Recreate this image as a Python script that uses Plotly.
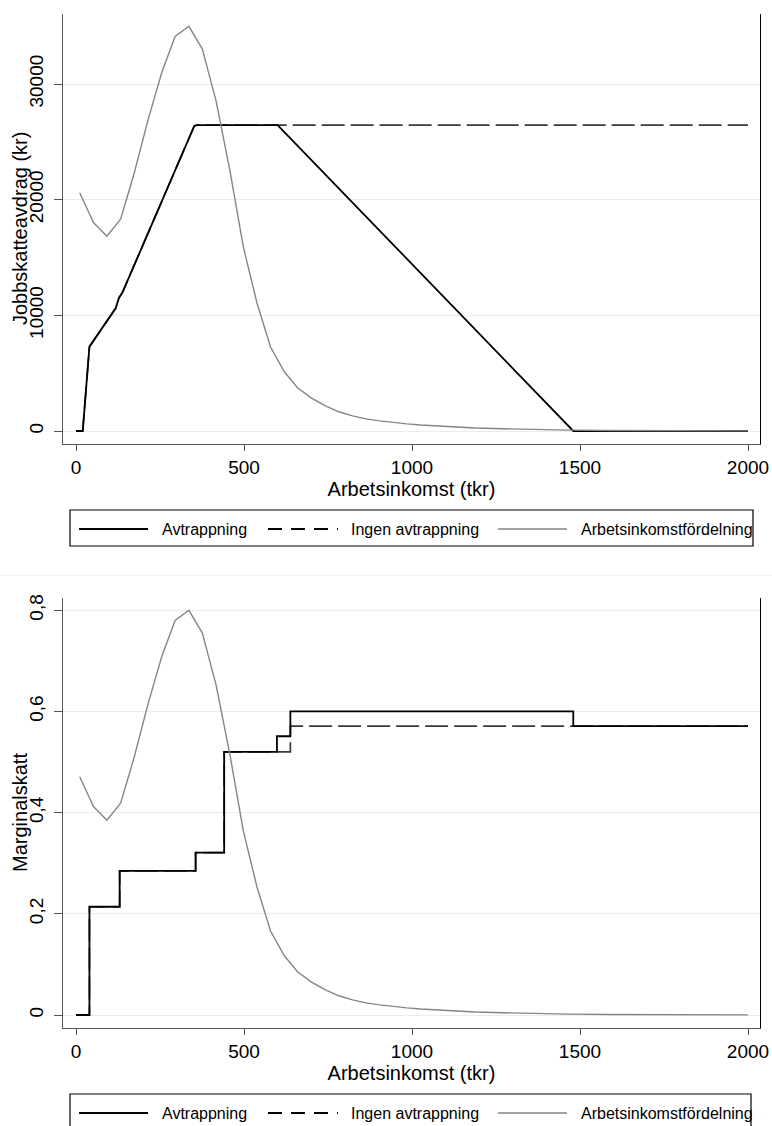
import plotly.graph_objects as go

# ---------------- data ----------------
# Top panel: Jobbskatteavdrag (kr) vs Arbetsinkomst (tkr)
jsa_x_avtr = [0, 20, 40, 118, 128, 138, 352, 360, 600, 1480, 2000]
jsa_y_avtr = [0, 0, 7290, 10610, 11520, 11960, 26370, 26450, 26450, 0, 0]
jsa_x_ingen = [0, 20, 40, 118, 128, 138, 352, 360, 600, 2000]
jsa_y_ingen = [0, 0, 7290, 10610, 11520, 11960, 26370, 26450, 26450, 26450]

# Bottom panel: Marginalskatt (step functions)
ms_x_avtr = [0, 40, 130, 356, 441, 598, 638, 1480, 2000]
ms_y_avtr = [0, 0.214, 0.285, 0.321, 0.520, 0.551, 0.600, 0.571, 0.571]
ms_x_ingen = [0, 40, 130, 356, 441, 638, 2000]
ms_y_ingen = [0, 0.214, 0.285, 0.321, 0.520, 0.571, 0.571]

# Income distribution (right, unlabeled axis)
dist_x = [11, 52, 92, 133, 173, 214, 255, 295, 336, 376, 417, 458, 498, 539,
          579, 620, 660, 701, 741, 782, 823, 863, 904, 944, 985, 1026, 1107,
          1188, 1269, 1350, 1472, 1594, 1756, 1878, 2000]
dist_y = [0.471, 0.412, 0.385, 0.419, 0.509, 0.614, 0.708, 0.780, 0.800, 0.755,
          0.652, 0.515, 0.364, 0.252, 0.166, 0.117, 0.085, 0.065, 0.050, 0.038,
          0.030, 0.024, 0.020, 0.0165, 0.0140, 0.0118, 0.0085, 0.0060, 0.0043,
          0.0030, 0.0018, 0.0011, 0.0006, 0.0003, 0.0002]

x_ticks = [0, 500, 1000, 1500, 2000]
top_y_ticks = [0, 10000, 20000, 30000]
top_y_ticktext = ["0", "10000", "20000", "30000"]
bot_y_ticks = [0, 0.2, 0.4, 0.6, 0.8]
bot_y_ticktext = ["0", "0,2", "0,4", "0,6", "0,8"]

names = ["Avtrappning", "Ingen avtrappning", "Arbetsinkomstfördelning"]
x_title = "Arbetsinkomst (tkr)"
top_y_title = "Jobbskatteavdrag (kr)"
bot_y_title = "Marginalskatt"

# ---------------- styling ----------------
W, H = 772, 1126
FONT = "Arial, Liberation Sans, sans-serif"
AXC = "#555555"
GRID = "#e6eef0"
BLACK = "#000000"
DASHC = "#3a3a3a"
GRAY = "#858585"


def py(p):
    return (H - p) / H


def px(p):
    return p / W


xdom = [px(63), px(760)]
top_dom = [py(444), py(14)]
bot_dom = [py(1028), py(598)]

fig = go.Figure()

# top panel
fig.add_trace(go.Scatter(x=jsa_x_ingen, y=jsa_y_ingen, mode="lines", name=names[1],
                         line=dict(color=DASHC, width=1.7, dash="23px,6px"),
                         xaxis="x", yaxis="y", showlegend=False))
fig.add_trace(go.Scatter(x=jsa_x_avtr, y=jsa_y_avtr, mode="lines", name=names[0],
                         line=dict(color=BLACK, width=1.8),
                         xaxis="x", yaxis="y", showlegend=False))
fig.add_trace(go.Scatter(x=dist_x, y=dist_y, mode="lines", name=names[2],
                         line=dict(color=GRAY, width=1.4),
                         xaxis="x", yaxis="y2", showlegend=False))

# bottom panel
fig.add_trace(go.Scatter(x=ms_x_ingen, y=ms_y_ingen, mode="lines", name=names[1],
                         line=dict(color=DASHC, width=1.7, dash="23px,6px", shape="hv"),
                         xaxis="x2", yaxis="y3", showlegend=False))
fig.add_trace(go.Scatter(x=ms_x_avtr, y=ms_y_avtr, mode="lines", name=names[0],
                         line=dict(color=BLACK, width=1.8, shape="hv"),
                         xaxis="x2", yaxis="y3", showlegend=False))
fig.add_trace(go.Scatter(x=dist_x, y=dist_y, mode="lines", name=names[2],
                         line=dict(color=GRAY, width=1.4),
                         xaxis="x2", yaxis="y4", showlegend=False))

xrange = [-38.7, 2035.7]
top_yrange = [-1124, 36052]
dist_range = [-0.0257, 0.8243]

xaxis_common = dict(
    domain=xdom, range=xrange, tickvals=x_ticks, ticks="outside", ticklen=6,
    tickwidth=1.3, tickcolor=AXC, showline=True, linecolor=AXC, linewidth=1.3,
    showgrid=False, zeroline=False, tickfont=dict(family=FONT, size=19, color=BLACK),
    title=dict(text=x_title, font=dict(family=FONT, size=20, color=BLACK), standoff=2),
    automargin=False, ticklabeloverflow="allow",
)
yaxis_common = dict(
    ticks="outside", ticklen=8, tickwidth=1.3, tickcolor=AXC, showline=True,
    linecolor=AXC, linewidth=1.3, showgrid=True, gridcolor=GRID, gridwidth=1.2,
    zeroline=False, tickangle=-90, tickfont=dict(family=FONT, size=19, color=BLACK),
    automargin=False, ticklabelstandoff=3,
)
y2_common = dict(
    side="right", showline=True, linecolor=BLACK, linewidth=1.3, showgrid=False,
    zeroline=False, showticklabels=False, ticks="", range=dist_range,
)

fig.update_layout(
    width=W, height=H,
    margin=dict(l=0, r=0, t=0, b=0),
    paper_bgcolor="white", plot_bgcolor="white",
    font=dict(family=FONT, color=BLACK),
    xaxis=dict(anchor="y", **xaxis_common),
    yaxis=dict(domain=top_dom, range=top_yrange, tickvals=top_y_ticks,
               ticktext=top_y_ticktext, anchor="x", **yaxis_common),
    yaxis2=dict(overlaying="y", anchor="x", **y2_common),
    xaxis2=dict(anchor="y3", **xaxis_common),
    yaxis3=dict(domain=bot_dom, range=[-0.0257, 0.8243], tickvals=bot_y_ticks,
                ticktext=bot_y_ticktext, anchor="x2", **yaxis_common),
    yaxis4=dict(overlaying="y3", anchor="x2", **y2_common),
)

# y-axis titles (overlapping tick labels as in the reference)
for text, yc in [(top_y_title, (14 + 444) / 2), (bot_y_title, (598 + 1028) / 2)]:
    fig.add_annotation(x=px(20), y=py(yc), xref="paper", yref="paper",
                       text=text, textangle=-90, showarrow=False,
                       font=dict(family=FONT, size=20, color=BLACK),
                       xanchor="center", yanchor="middle")

# separator between the two graphs
fig.add_shape(type="line", xref="paper", yref="paper", x0=0, x1=1,
              y0=py(575), y1=py(575), line=dict(color="#e8eff0", width=1.2))

# legends (drawn manually to match sample lengths)
legend_specs = [
    (510, 546, 529, 753),
    (1094, 1140, 1113, 751),
]
samples = [
    (79, 148, BLACK, None, 160),
    (268, 338, BLACK, "14px,9px", 349),
    (498, 567, GRAY, None, 579),
]
for top, bottom, yc, right in legend_specs:
    fig.add_shape(type="rect", xref="paper", yref="paper",
                  x0=px(70), x1=px(right), y0=py(bottom), y1=py(top),
                  line=dict(color=BLACK, width=1.2), fillcolor="rgba(0,0,0,0)")
    for (sx0, sx1, col, dash, tx), nm in zip(samples, names):
        ln = dict(color=col, width=1.8 if col == BLACK else 1.4)
        if dash:
            ln["dash"] = dash
        fig.add_shape(type="line", xref="paper", yref="paper",
                      x0=px(sx0), x1=px(sx1), y0=py(yc), y1=py(yc), line=ln)
        fig.add_annotation(x=px(tx), y=py(yc), xref="paper", yref="paper",
                           text=nm, showarrow=False, xanchor="left", yanchor="middle",
                           font=dict(family=FONT, size=16, color=BLACK))

fig.write_html(
    "out.html",
    config={"displayModeBar": False},
    post_script="document.body.style.margin='0';document.body.style.overflow='hidden';",
)
